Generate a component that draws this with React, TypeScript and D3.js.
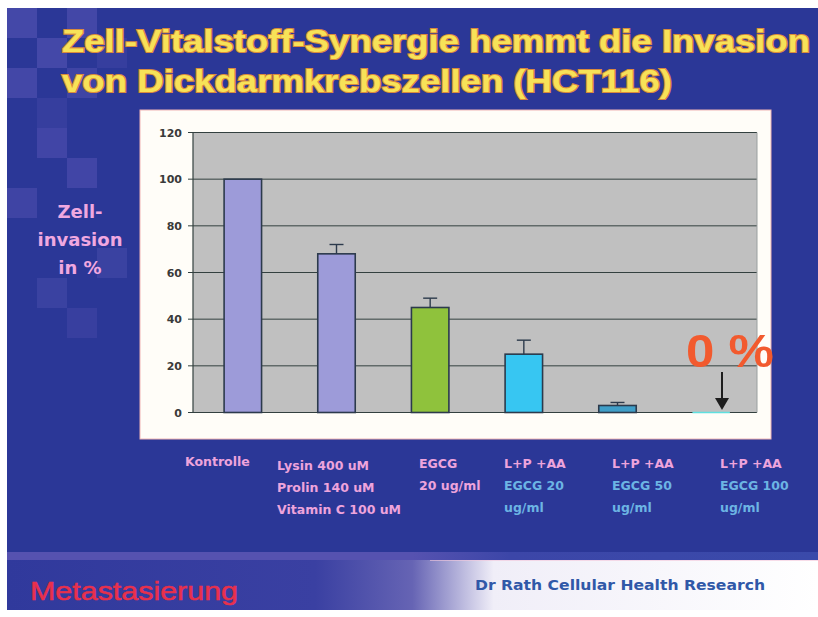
import React from "react";
import * as d3 from "d3";

const categories = ["Kontrolle", "LPC", "EGCG", "LPAA20", "LPAA50", "LPAA100"];
const values = [100, 68, 45, 25, 3, 0];
const errors = [0, 4, 4, 6, 1.3, 0];
const barColors = ["#9d9bd9", "#9d9bd9", "#8fc23c", "#37c6f2", "#3f9ec8", "#5fe0e0"];
const yTicks = [0, 20, 40, 60, 80, 100, 120];
const titleLines = ["Zell-Vitalstoff-Synergie hemmt die Invasion", "von Dickdarmkrebszellen (HCT116)"];
const yLabelLines = ["Zell-", "invasion", "in %"];
const PINK = "#eea4dc";
const CYANT = "#6cb4e4";
const catLabels: { t: string; c: string }[][] = [
  [{ t: "Kontrolle", c: PINK }],
  [{ t: "Lysin 400 uM", c: PINK }, { t: "Prolin 140 uM", c: PINK }, { t: "Vitamin C 100 uM", c: PINK }],
  [{ t: "EGCG", c: PINK }, { t: "20 ug/ml", c: PINK }],
  [{ t: "L+P +AA", c: PINK }, { t: "EGCG 20", c: CYANT }, { t: "ug/ml", c: CYANT }],
  [{ t: "L+P +AA", c: PINK }, { t: "EGCG 50", c: CYANT }, { t: "ug/ml", c: CYANT }],
  [{ t: "L+P +AA", c: PINK }, { t: "EGCG 100", c: CYANT }, { t: "ug/ml", c: CYANT }],
];
// layout (not data)
const labelX = [185, 277, 419, 504, 612, 720];
const labelY0 = [466, 470, 468, 468, 468, 468];
const checker: [number, number, number][] = [
  [0, 0, 0.32], [2, 0, 0.3], [1, 1, 0.32], [3, 1, 0.15], [0, 2, 0.3], [2, 2, 0.25],
  [1, 3, 0.15], [1, 4, 0.28], [2, 5, 0.28], [0, 6, 0.25], [3, 8, 0.2], [1, 9, 0.2], [2, 10, 0.16],
];

export default function App() {
  const W = 818, H = 617;
  const plot = { x0: 193, x1: 757, y0: 412.5, y1: 132.5 };
  const x = d3.scaleBand<string>().domain(categories).range([196, 758]).paddingInner(0.6).paddingOuter(0.3);
  const y = d3.scaleLinear().domain([0, 120]).range([plot.y0, plot.y1]);
  const bw = x.bandwidth();

  return (
    <svg width={W} height={H} style={{ position: "absolute", left: 0, top: 0 }}>
      <defs>
        <linearGradient id="band" x1="0" x2="1" y1="0" y2="0">
          <stop offset="0" stopColor="#30399c" />
          <stop offset="0.38" stopColor="#3a40a2" />
          <stop offset="0.5" stopColor="#6664b4" />
          <stop offset="0.6" stopColor="#f0eef8" />
          <stop offset="1" stopColor="#ffffff" />
        </linearGradient>
        <linearGradient id="stripe" x1="0" x2="1" y1="0" y2="0">
          <stop offset="0" stopColor="#5652b0" />
          <stop offset="0.5" stopColor="#5652b0" />
          <stop offset="0.62" stopColor="#3c46a8" />
          <stop offset="1" stopColor="#3a4aaa" />
        </linearGradient>
        <linearGradient id="gold" x1="0" x2="1" y1="0" y2="0">
          <stop offset="0" stopColor="#e8a850" />
          <stop offset="0.5" stopColor="#f0c060" />
          <stop offset="1" stopColor="#e8a850" />
        </linearGradient>
        <filter id="blur1"><feGaussianBlur stdDeviation="0.6" /></filter>
      </defs>
      <rect x={0} y={0} width={W} height={H} fill="#ffffff" />
      <rect x={7} y={8} width={W - 7} height={602} fill="#2b3797" />
      {checker.map(([c, r, o], i) => (
        <rect key={i} x={7 + c * 30} y={8 + r * 30} width={30} height={30} fill="#7a6ccc" opacity={o} />
      ))}
      {/* bottom band */}
      <rect x={7} y={552} width={W - 7} height={8} fill="url(#stripe)" />
      <rect x={7} y={560} width={W - 7} height={50} fill="url(#band)" />
      <line x1={430} x2={W} y1={560.5} y2={560.5} stroke="#f4c8dc" strokeWidth={1} opacity={0.6} />

      {/* title */}
      <g fontFamily="'Liberation Sans', Arial, sans-serif" fontWeight="bold" fontSize={31}
         fill="#f7e258" stroke="#d98a3c" strokeWidth={2.2} style={{ paintOrder: "stroke" }}>
        <text x={62} y={52} textLength={748} lengthAdjust="spacingAndGlyphs">{titleLines[0]}</text>
        <text x={62} y={92} textLength={610} lengthAdjust="spacingAndGlyphs">{titleLines[1]}</text>
      </g>
      <line x1={58} x2={790} y1={108} y2={108} stroke="url(#gold)" strokeWidth={3} filter="url(#blur1)" />

      {/* y label */}
      <g fontFamily="'DejaVu Sans', Verdana, sans-serif" fontWeight="bold" fontSize={18} fill="#f0a8e0" textAnchor="middle">
        {yLabelLines.map((t, i) => (
          <text key={i} x={80} y={218 + i * 28}>{t}</text>
        ))}
      </g>

      {/* panel */}
      <rect x={140} y={110} width={631} height={329} fill="#fffdf8" stroke="#f0b4b4" strokeWidth={1} />
      <rect x={plot.x0} y={plot.y1} width={plot.x1 - plot.x0} height={plot.y0 - plot.y1} fill="#c0c0c0" />
      {yTicks.map((t) => (
        <g key={t}>
          <line x1={plot.x0} x2={plot.x1} y1={y(t)} y2={y(t)} stroke="#33403f" strokeWidth={1} />
          <line x1={plot.x0 - 5} x2={plot.x0} y1={y(t)} y2={y(t)} stroke="#33403f" strokeWidth={1} />
          <text x={182} y={y(t) + 4} textAnchor="end" fontFamily="'DejaVu Sans', sans-serif" fontWeight="bold"
                fontSize={11} fill="#3a3a3a">{t}</text>
        </g>
      ))}
      <line x1={plot.x0} x2={plot.x0} y1={plot.y1} y2={plot.y0} stroke="#33403f" strokeWidth={1.2} />
      <line x1={plot.x1} x2={plot.x1} y1={plot.y1} y2={plot.y0} stroke="#9aa0a0" strokeWidth={1} />

      {/* bars */}
      {categories.map((c, i) => {
        const bx = x(c)!;
        const top = y(values[i]);
        const cx = bx + bw / 2;
        return (
          <g key={c}>
            {values[i] > 0 ? (
              <rect x={bx} y={top} width={bw} height={plot.y0 - top} fill={barColors[i]} stroke="#2c3a4c" strokeWidth={1.6} />
            ) : (
              <line x1={bx} x2={bx + bw} y1={plot.y0} y2={plot.y0} stroke={barColors[i]} strokeWidth={1.5} />
            )}
            {errors[i] > 0 && (
              <g stroke="#2c3a4c" strokeWidth={1.4}>
                <line x1={cx} x2={cx} y1={top} y2={y(values[i] + errors[i])} />
                <line x1={cx - 7} x2={cx + 7} y1={y(values[i] + errors[i])} y2={y(values[i] + errors[i])} />
              </g>
            )}
          </g>
        );
      })}

      {/* 0 % annotation */}
      <text x={686} y={367} fontFamily="'Liberation Sans', Arial, sans-serif" fontWeight="bold" fontSize={47}
            fill="#f25a2e" textLength={88} lengthAdjust="spacingAndGlyphs">0 %</text>
      <line x1={722} x2={722} y1={372} y2={400} stroke="#1e1e1e" strokeWidth={2} />
      <path d={`M715,398 L729,398 L722,410 Z`} fill="#1e1e1e" />

      {/* category labels */}
      <g fontFamily="'DejaVu Sans', Verdana, sans-serif" fontWeight="bold" fontSize={12.5}>
        {catLabels.map((lines, i) =>
          lines.map((l, j) => (
            <text key={i + "-" + j} x={labelX[i]} y={labelY0[i] + j * 22} fill={l.c}>{l.t}</text>
          ))
        )}
      </g>

      {/* footer */}
      <text x={30} y={600} fontFamily="'Liberation Sans', Arial, sans-serif" fontSize={26} fill="#e8304c"
            stroke="#e8304c" strokeWidth={0.5} textLength={208} lengthAdjust="spacingAndGlyphs">Metastasierung</text>
      <text x={475} y={590} fontFamily="'DejaVu Sans', Verdana, sans-serif" fontWeight="bold" fontSize={13.5}
            fill="#3058a8" textLength={290} lengthAdjust="spacingAndGlyphs">Dr Rath Cellular Health Research</text>
    </svg>
  );
}
